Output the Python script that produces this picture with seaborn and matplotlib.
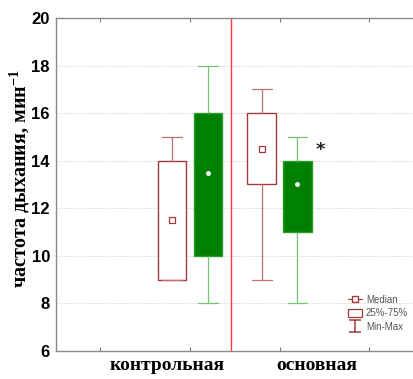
import numpy as np
import pandas as pd
import matplotlib
matplotlib.use("Agg")
import matplotlib.pyplot as plt
import matplotlib.transforms as mtransforms
from matplotlib.lines import Line2D
from matplotlib.patches import Patch
from matplotlib.path import Path
import seaborn as sns

# ---------------- data (five-number summaries) ----------------
groups = ["контрольная", "основная"]
series = ["white", "green"]

white_min = [9, 9]
white_q1 = [9, 13]
white_med = [11.5, 14.5]
white_q3 = [14, 16]
white_max = [15, 17]

green_min = [8, 8]
green_q1 = [10, 11]
green_med = [13.5, 13]
green_q3 = [16, 14]
green_max = [18, 15]

y_ticks = [6, 8, 10, 12, 14, 16, 18, 20]
ylabel = "частота дыхания, мин$^{\\mathbf{-1}}$"
legend_labels = ["Median", "25%-75%", "Min-Max"]
star_text = "*"

# ---------------- build long table ----------------
rows = []
summ = {
    "white": (white_min, white_q1, white_med, white_q3, white_max),
    "green": (green_min, green_q1, green_med, green_q3, green_max),
}
for s in series:
    for gi, g in enumerate(groups):
        for arr in summ[s]:
            rows.append({"group": g, "series": s, "value": arr[gi]})
df = pd.DataFrame(rows)

# ---------------- style ----------------
sns.set_style("white")
plt.rcParams["font.family"] = ["Liberation Sans", "DejaVu Sans"]
plt.rcParams["mathtext.fontset"] = "custom"
plt.rcParams["mathtext.rm"] = "Liberation Serif"
plt.rcParams["mathtext.bf"] = "Liberation Serif:bold"
plt.rcParams["text.color"] = "black"
plt.rcParams["axes.labelcolor"] = "black"
plt.rcParams["ytick.color"] = "black"

BROWN = "#A33A3A"
BROWN_L = "#C27272"
GREEN = "#008000"
GREEN_E = "#2E9A2E"
GREEN_L = "#74C474"

fig = plt.figure(figsize=(4.14, 3.79), dpi=100)
W, H = 414, 379
ax = fig.add_axes([55.5 / W, (H - 351) / H, (W - 55.5) / W, (351 - 18) / H])

sns.boxplot(data=df, x="group", y="value", hue="series", order=groups,
            hue_order=series, palette={"white": "white", "green": GREEN},
            saturation=1, width=0.8, gap=0.2, whis=(0, 100), dodge=True,
            linewidth=1, legend=False, ax=ax)

styles = {
    "white": dict(edge=BROWN, wh=BROWN_L, mk="s", mfc="white", mec=BROWN, ms=4.2),
    "green": dict(edge=GREEN_E, wh=GREEN_L, mk="o", mfc="white", mec="white", ms=2.6),
}
for cont, s in zip(ax.containers, series):
    st = styles[s]
    for box in cont.boxes:
        box.set_edgecolor(st["edge"])
        box.set_linewidth(1.0)
    for w in cont.whiskers:
        w.set_color(st["wh"])
        w.set_linewidth(0.9)
    centers = []
    for box in cont.boxes:
        ext = box.get_path().get_extents()
        centers.append(((ext.x0 + ext.x1) / 2, ext.x1 - ext.x0))
    for i, c in enumerate(cont.caps):
        cx, bw = centers[i // 2]
        c.set_xdata([cx - 0.345 * bw, cx + 0.345 * bw])
        c.set_color(st["wh"])
        c.set_linewidth(0.9)
    for m in cont.medians:
        xd = np.asarray(m.get_xdata(), float)
        yd = np.asarray(m.get_ydata(), float)
        m.set_data([xd.mean()], [yd.mean()])
        m.set_linestyle("none")
        m.set_marker(st["mk"])
        m.set_markersize(st["ms"])
        m.set_markerfacecolor(st["mfc"])
        m.set_markeredgecolor(st["mec"])
        m.set_markeredgewidth(0.9)
        m.set_zorder(5)

# separator line and star
ax.axvline(0.46, color="#FF3B3B", lw=1.0, zorder=1, snap=True)
ax.text(1.46, 14.45, star_text, ha="center", va="center", fontsize=13,
        fontweight="bold", color="#222222", family="DejaVu Sans")

# axes
ax.set_xlim(-1.5, 2.5)
ax.set_ylim(6, 20)
ax.set_xticks([-1, 0, 1, 2])
ax.set_xticklabels([])
ax.set_xlabel("")
ax.set_yticks(y_ticks)
ax.set_yticklabels([str(t) for t in y_ticks], fontsize=12, fontweight="bold",
                   family="Liberation Sans", color="black")
ax.tick_params(axis="y", length=0, pad=4, labelcolor="black")
ax.tick_params(axis="x", direction="in", top=True, bottom=True, length=3,
               width=0.8, color="#777777")
ax.yaxis.grid(True, linestyle=(0, (1, 1.5)), color="#cccccc", lw=0.7)
ax.xaxis.grid(False)
ax.set_axisbelow(True)
for sp in ["left", "top", "bottom"]:
    ax.spines[sp].set_color("#8a8a8a")
    ax.spines[sp].set_linewidth(1.0)
ax.spines["right"].set_visible(False)

ax.set_ylabel(ylabel, fontsize=14.5, fontweight="bold", family="Liberation Serif",
              ha="center", va="center", color="black")
ax.yaxis.set_label_coords((20 - 55.5) / (W - 55.5), (351 - 179) / 333)

# category labels
trans = mtransforms.blended_transform_factory(ax.transData, ax.transAxes)
label_x = [-0.26, 1.41]
for lx, g in zip(label_x, groups):
    ax.text(lx, -0.045, g, transform=trans, ha="center", va="center",
            fontsize=14, fontweight="bold", family="Liberation Serif",
            color="black")

# legend
cap_path = Path([(-1, 1), (1, 1), (0, 1), (0, -1), (-1, -1), (1, -1)],
                [Path.MOVETO, Path.LINETO, Path.MOVETO, Path.LINETO,
                 Path.MOVETO, Path.LINETO])
handles = [
    Line2D([], [], color=BROWN, marker="s", markerfacecolor="white",
           markersize=4, lw=0.8),
    Patch(facecolor="white", edgecolor=BROWN, lw=0.9),
    Line2D([], [], color=BROWN, marker=cap_path, linestyle="none",
           markersize=9, markeredgewidth=1.1),
]
leg = ax.legend(handles, legend_labels, loc="lower right",
                bbox_to_anchor=(1.0, 0.04), frameon=False, fontsize=7,
                handlelength=1.4, handleheight=0.9, handletextpad=0.4,
                labelspacing=0.35, borderaxespad=0.2)
for t in leg.get_texts():
    t.set_color("#555555")

fig.savefig("out.png", dpi=100)
